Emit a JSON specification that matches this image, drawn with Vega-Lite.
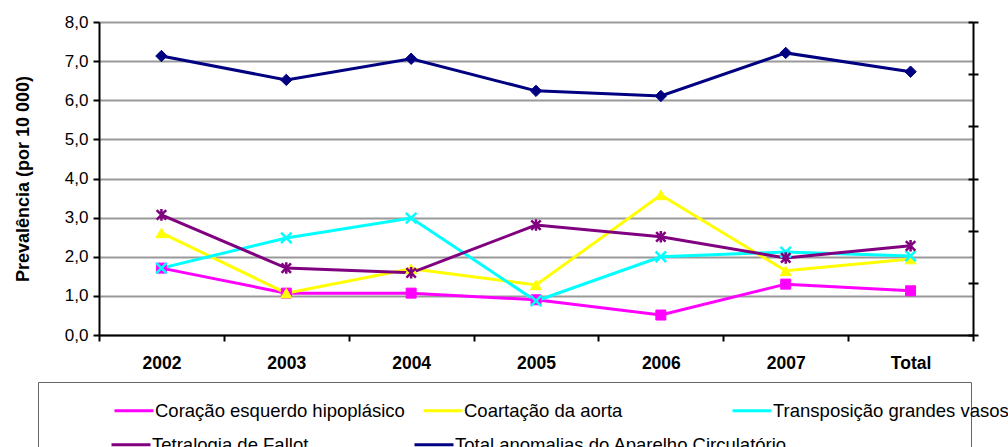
{
  "$schema": "https://vega.github.io/schema/vega-lite/v6.json",
  "width": 874,
  "height": 313,
  "autosize": "none",
  "padding": {"left": 99, "top": 22, "right": 35, "bottom": 112},
  "config": {"view": {"stroke": null}, "font": "Liberation Sans"},
  "data": {"values": [
    {"ano": "2002", "serie": "Coração esquerdo hipoplásico", "valor": 1.71},
    {"ano": "2003", "serie": "Coração esquerdo hipoplásico", "valor": 1.07},
    {"ano": "2004", "serie": "Coração esquerdo hipoplásico", "valor": 1.07},
    {"ano": "2005", "serie": "Coração esquerdo hipoplásico", "valor": 0.90},
    {"ano": "2006", "serie": "Coração esquerdo hipoplásico", "valor": 0.51},
    {"ano": "2007", "serie": "Coração esquerdo hipoplásico", "valor": 1.30},
    {"ano": "Total", "serie": "Coração esquerdo hipoplásico", "valor": 1.13},
    {"ano": "2002", "serie": "Coartação da aorta", "valor": 2.61},
    {"ano": "2003", "serie": "Coartação da aorta", "valor": 1.07},
    {"ano": "2004", "serie": "Coartação da aorta", "valor": 1.69},
    {"ano": "2005", "serie": "Coartação da aorta", "valor": 1.28},
    {"ano": "2006", "serie": "Coartação da aorta", "valor": 3.58},
    {"ano": "2007", "serie": "Coartação da aorta", "valor": 1.64},
    {"ano": "Total", "serie": "Coartação da aorta", "valor": 1.94},
    {"ano": "2002", "serie": "Transposição grandes vasos", "valor": 1.71},
    {"ano": "2003", "serie": "Transposição grandes vasos", "valor": 2.48},
    {"ano": "2004", "serie": "Transposição grandes vasos", "valor": 2.99},
    {"ano": "2005", "serie": "Transposição grandes vasos", "valor": 0.87},
    {"ano": "2006", "serie": "Transposição grandes vasos", "valor": 2.00},
    {"ano": "2007", "serie": "Transposição grandes vasos", "valor": 2.12},
    {"ano": "Total", "serie": "Transposição grandes vasos", "valor": 2.02},
    {"ano": "2002", "serie": "Tetralogia de Fallot", "valor": 3.07},
    {"ano": "2003", "serie": "Tetralogia de Fallot", "valor": 1.71},
    {"ano": "2004", "serie": "Tetralogia de Fallot", "valor": 1.59},
    {"ano": "2005", "serie": "Tetralogia de Fallot", "valor": 2.81},
    {"ano": "2006", "serie": "Tetralogia de Fallot", "valor": 2.51},
    {"ano": "2007", "serie": "Tetralogia de Fallot", "valor": 1.97},
    {"ano": "Total", "serie": "Tetralogia de Fallot", "valor": 2.28},
    {"ano": "2002", "serie": "Total anomalias do Aparelho Circulatório", "valor": 7.13},
    {"ano": "2003", "serie": "Total anomalias do Aparelho Circulatório", "valor": 6.52},
    {"ano": "2004", "serie": "Total anomalias do Aparelho Circulatório", "valor": 7.06},
    {"ano": "2005", "serie": "Total anomalias do Aparelho Circulatório", "valor": 6.24},
    {"ano": "2006", "serie": "Total anomalias do Aparelho Circulatório", "valor": 6.11},
    {"ano": "2007", "serie": "Total anomalias do Aparelho Circulatório", "valor": 7.21},
    {"ano": "Total", "serie": "Total anomalias do Aparelho Circulatório", "valor": 6.73}
  ]},
  "encoding": {
    "x": {
      "field": "ano", "type": "ordinal",
      "sort": ["2002", "2003", "2004", "2005", "2006", "2007", "Total"],
      "scale": {"paddingInner": 0, "paddingOuter": 0},
      "axis": {
        "title": null, "labelAngle": 0, "labelFontSize": 17.5, "labelFontWeight": "bold",
        "labelColor": "black", "labelPadding": 13, "tickBand": "extent",
        "tickSize": 6, "tickWidth": 2, "tickColor": "black",
        "domainColor": "black", "domainWidth": 2, "grid": false
      }
    }
  },
  "layer": [
    {
      "mark": {"type": "line", "strokeWidth": 3},
      "encoding": {
        "y": {
          "field": "valor", "type": "quantitative",
          "scale": {"domain": [0, 8], "nice": false, "zero": true},
          "axis": {
            "orient": "left",
            "values": [0, 1, 2, 3, 4, 5, 6, 7, 8],
            "labelExpr": "replace(format(datum.value, '.1f'), '.', ',')",
            "labelFontSize": 17, "labelColor": "black", "labelPadding": 5,
            "tickSize": 6, "tickWidth": 2, "tickColor": "black",
            "domainColor": "black", "domainWidth": 2,
            "grid": true, "gridColor": "#999999", "gridWidth": 2,
            "title": "Prevalência (por 10 000)", "titleFontSize": 18,
            "titleFontWeight": "bold", "titleColor": "black", "titlePadding": 32
          }
        },
        "stroke": {
          "field": "serie", "type": "nominal",
          "scale": {
            "domain": ["Tetralogia de Fallot", "Total anomalias do Aparelho Circulatório", "Coração esquerdo hipoplásico", "Coartação da aorta", "Transposição grandes vasos"],
            "range": ["#800080", "#000080", "#FF00FF", "#FFFF00", "#00FFFF"]
          },
          "legend": {
            "values": ["Tetralogia de Fallot", "Total anomalias do Aparelho Circulatório", "                                                  "],
            "orient": "none", "legendX": -61, "legendY": 360,
            "columns": 3, "direction": "horizontal", "gridAlign": "each",
            "title": " ", "titleOrient": "left", "titlePadding": 30.5, "titleFontSize": 11,
            "symbolType": "stroke", "symbolSize": 1521, "symbolStrokeWidth": 3,
            "labelFontSize": 18.5, "labelColor": "black", "labelLimit": 0, "labelOffset": 0,
            "columnPadding": 99, "rowPadding": 0, "padding": 41.5,
            "strokeColor": "#666666"
          }
        }
      }
    },
    {
      "transform": [{"filter": "datum.serie === 'Coração esquerdo hipoplásico'"}],
      "mark": {"type": "point", "shape": "square", "filled": true, "size": 100, "color": "#FF00FF", "stroke": "#FF00FF", "strokeWidth": 1, "opacity": 1},
      "encoding": {
        "y": {
          "field": "valor", "type": "quantitative",
          "axis": {
            "orient": "right",
            "values": [0, 1.3333, 2.6667, 4, 5.3333, 6.6667, 8],
            "labels": false, "grid": false, "title": null,
            "tickSize": 5, "tickWidth": 2, "tickColor": "black",
            "domainColor": "black", "domainWidth": 2
          }
        }
      }
    },
    {
      "transform": [{"filter": "datum.serie === 'Coartação da aorta'"}],
      "mark": {"type": "point", "shape": "triangle-up", "filled": true, "size": 120, "color": "#FFFF00", "stroke": "#FFFF00", "strokeWidth": 1, "opacity": 1},
      "encoding": {
        "y": {
          "field": "valor", "type": "quantitative",
          "axis": {
            "orient": "right",
            "values": [0, 1.3333, 2.6667, 4, 5.3333, 6.6667, 8],
            "labels": false, "grid": false, "title": null, "domain": false,
            "tickSize": -5, "tickWidth": 2, "tickColor": "black"
          }
        }
      }
    },
    {
      "transform": [{"filter": "datum.serie === 'Transposição grandes vasos'"}],
      "mark": {"type": "point", "shape": "M-1,-1L1,1M-1,1L1,-1", "filled": false, "size": 110, "strokeWidth": 2.5, "opacity": 1},
      "encoding": {
        "y": {"field": "valor", "type": "quantitative", "axis": null},
        "color": {
          "field": "serie", "type": "nominal",
          "scale": {
            "domain": ["Coração esquerdo hipoplásico", "Coartação da aorta", "Transposição grandes vasos", "Tetralogia de Fallot", "Total anomalias do Aparelho Circulatório"],
            "range": ["#FF00FF", "#FFFF00", "#00FFFF", "#800080", "#000080"]
          },
          "legend": {
            "values": ["Coração esquerdo hipoplásico", "Coartação da aorta", "Transposição grandes vasos"],
            "orient": "none", "legendX": 14, "legendY": 367.5,
            "columns": 3, "direction": "horizontal", "gridAlign": "all",
            "title": null,
            "symbolType": "stroke", "symbolSize": 1521, "symbolStrokeWidth": 3,
            "labelFontSize": 18.5, "labelColor": "black", "labelLimit": 0, "labelOffset": 0,
            "columnPadding": 12, "rowPadding": 0, "padding": 0
          }
        }
      }
    },
    {
      "transform": [{"filter": "datum.serie === 'Tetralogia de Fallot'"}],
      "mark": {"type": "point", "shape": "M-0.9,-0.9L0.9,0.9M-0.9,0.9L0.9,-0.9M0,-1.1V1.1", "filled": false, "size": 110, "color": "#800080", "strokeWidth": 2.5, "opacity": 1},
      "encoding": {
        "y": {"field": "valor", "type": "quantitative", "axis": null}
      }
    },
    {
      "transform": [{"filter": "datum.serie === 'Total anomalias do Aparelho Circulatório'"}],
      "mark": {"type": "point", "shape": "diamond", "filled": true, "size": 130, "color": "#000080", "stroke": "#000080", "strokeWidth": 1, "opacity": 1},
      "encoding": {
        "y": {"field": "valor", "type": "quantitative", "axis": null}
      }
    }
  ],
  "resolve": {"axis": {"y": "independent"}}
}
